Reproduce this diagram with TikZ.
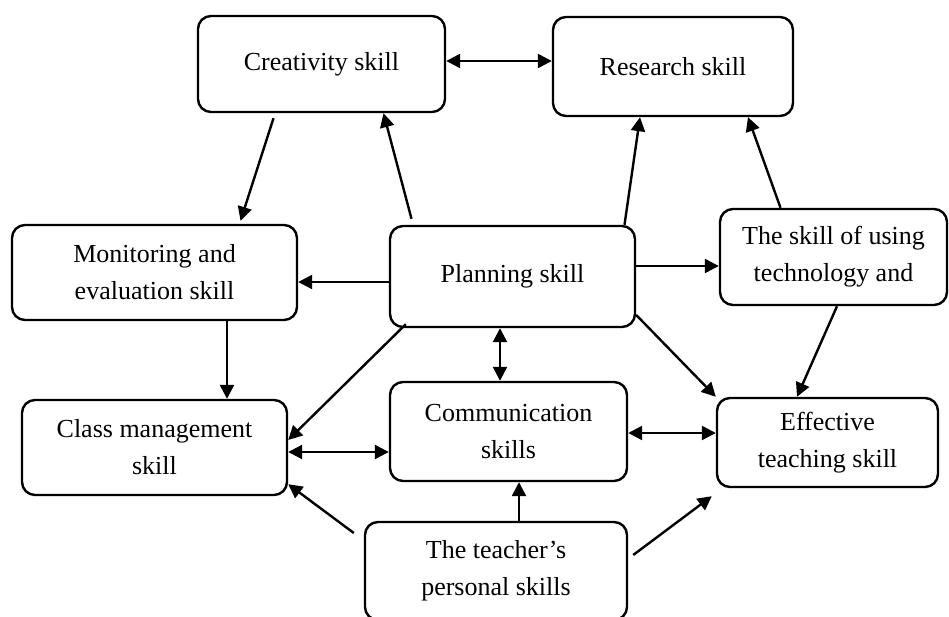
\documentclass[tikz,border=0pt]{standalone}
\usepackage{fontspec}
\setmainfont{Liberation Serif}
\usepackage{tikz}
\usetikzlibrary{arrows.meta,positioning}

\begin{document}
\begin{tikzpicture}[
    x=1pt, y=-1pt,
    line width=2.4pt,
    skill/.style={draw, rounded corners=13pt, align=center, inner sep=0pt, font=\fontsize{26}{37}\selectfont},
    link/.style={-{Triangle[length=14pt,width=14pt]}},
    bothway/.style={{Triangle[length=14pt,width=14pt]}-{Triangle[length=14pt,width=14pt]}}
  ]
    \useasboundingbox (0,0) rectangle (949,617);
    % top row
    \node[skill, minimum width=247pt, minimum height=96pt] (creativity) at (321.5,64) {Creativity skill};
    \node[skill, minimum width=240pt, minimum height=99pt] (research) at (673,66.5) {Research skill};
    % middle row
    \node[skill, minimum width=285pt, minimum height=95pt] (monitoring) at (154.5,272.5) {Monitoring and\\evaluation skill};
    \node[skill, minimum width=245pt, minimum height=101pt] (planning) at (512.5,276.5) {Planning skill};
    \node[skill, minimum width=227pt, minimum height=96pt] (technology) at (833.5,257) {The skill of using\\technology and};
    % lower row
    \node[skill, minimum width=265pt, minimum height=95pt] (classmgmt) at (154.5,447.5) {Class management\\skill};
    \node[skill, minimum width=237pt, minimum height=99pt] (communication) at (508.5,431.5) {Communication\\skills};
    \node[skill, minimum width=221pt, minimum height=89pt] (effective) at (827.5,442.5) {Effective\\teaching skill};
    \node[skill, minimum width=262pt, minimum height=98pt] (personal) at (496,571) {The teacher's\\personal skills};

    \draw[bothway] ([yshift=3pt]creativity.east) -- ([yshift=5.5pt]research.west);
    \draw[link] ([xshift=-48pt,yshift=-5pt]creativity.south) -- ([xshift=86pt,yshift=3pt]monitoring.north);
    \draw[link] ([xshift=-101pt,yshift=6pt]planning.north) -- ([xshift=62pt]creativity.south);
    \draw[link] ([xshift=112pt]planning.north) -- ([xshift=-33pt]research.south);
    \draw[link] ([xshift=-53pt]technology.north) -- ([xshift=75pt]research.south);
    \draw[link] ([yshift=-5.5pt]planning.west) -- ([yshift=-9.5pt]monitoring.east);
    \draw[link] ([yshift=10.5pt]planning.east) -- ([yshift=-9pt]technology.west);
    \draw[bothway] ([xshift=-12.5pt]planning.south) -- ([xshift=-8.5pt]communication.north);
    \draw[link] ([xshift=17pt,yshift=4pt]planning.south west) -- ([yshift=7.5pt]classmgmt.east);
    \draw[link] ([yshift=-38.5pt]planning.east) -- (effective.north west);
    \draw[link] ([xshift=3.5pt]technology.south) -- ([xshift=-30.5pt]effective.north);
    \draw[link] ([xshift=72.5pt]monitoring.south) -- ([xshift=72.5pt]classmgmt.north);
    \draw[bothway] ([yshift=-4.5pt]classmgmt.east) -- ([yshift=-20.5pt]communication.west);
    \draw[bothway] ([yshift=-1.5pt]communication.east) -- ([yshift=9.5pt]effective.west);
    \draw[link] ([xshift=23pt]personal.north) -- ([xshift=10.5pt]communication.south);
    \draw[link] ([xshift=-10pt,yshift=38pt]personal.west) -- ([yshift=12pt]classmgmt.south east);
    \draw[link] ([xshift=5pt,yshift=16pt]personal.east) -- ([xshift=-4pt,yshift=-8pt]effective.south west);
\end{tikzpicture}
\end{document}
